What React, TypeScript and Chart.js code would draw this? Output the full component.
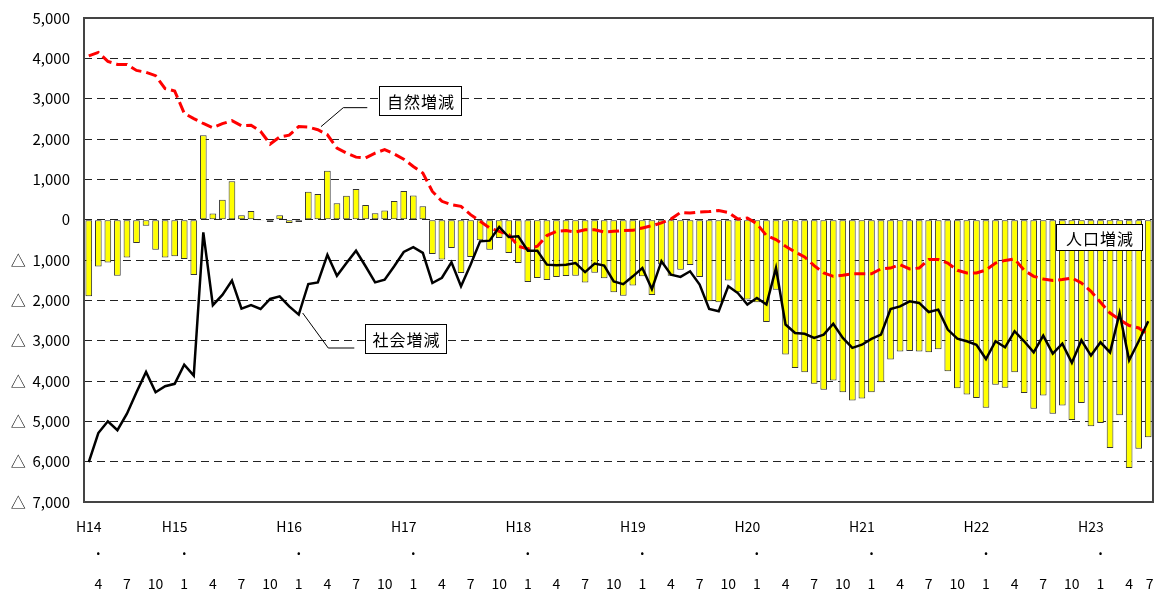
import { useEffect, useRef } from "react";
import { Chart, registerables } from "chart.js";

Chart.register(...registerables);

const FONT = '"Noto Sans CJK JP", "Noto Sans", sans-serif';

// 人口増減 (bars), H14.4 – H23.7, monthly
const populationChange = [
  -1900, -1160, -1060, -1390, -935, -580, -150, -745, -935, -910, -975, -1370,
  2090, 150, 495, 950, 110, 215, -10, -55, 107, -80, -60, 695,
  635, 1215, 405, 595, 760, 365, 157, 230, 463, 710, 600, 330,
  -850, -985, -700, -1320, -925, -510, -745, -455, -825, -1075, -1545, -1445,
  -1495, -1420, -1395, -1390, -1560, -1315, -1455, -1800, -1885, -1635, -1405, -1865,
  -1110, -1390, -1240, -1125, -1420, -2025, -2050, -1510, -1800, -1980, -2050, -2535,
  -1735, -3345, -3675, -3785, -4070, -4215, -3990, -4280, -4485, -4435, -4280, -4030,
  -3470, -3270, -3255, -3270, -3290, -3215, -3760, -4180, -4335, -4420, -4665, -4090,
  -4170, -3785, -4295, -4685, -4360, -4815, -4610, -4970, -4545, -5120, -5040, -5660,
  -4850, -6155, -5680, -5395,
];

// 自然増減 (red dashed line)
const naturalChange = [
  4060, 4146, 3925, 3850, 3850, 3700, 3655, 3570, 3250, 3190, 2640, 2505,
  2385, 2280, 2380, 2455, 2330, 2340, 2190, 1875, 2050, 2095, 2310, 2295,
  2230, 2105, 1775, 1650, 1550, 1530, 1650, 1735, 1630, 1500, 1320, 1155,
  700, 455, 370, 330, 125, -40, -205, -290, -370, -660, -725, -660,
  -395, -290, -270, -305, -250, -250, -305, -290, -270, -265, -205, -150,
  -80, 15, 180, 165, 190, 200, 225, 180, 15, 40, -100, -395,
  -495, -660, -800, -925, -1140, -1320, -1405, -1380, -1340, -1340, -1340, -1220,
  -1200, -1115, -1220, -1200, -990, -990, -1075, -1255, -1320, -1320, -1250, -1075,
  -1010, -975, -1255, -1405, -1470, -1505, -1485, -1445, -1570, -1775, -2050, -2315,
  -2480, -2625, -2685, -2850,
];

// 社会増減 (black line)
const socialChange = [
  -6010, -5290, -5000, -5220, -4810, -4280, -3775, -4280, -4130, -4070, -3595, -3865,
  -315, -2120, -1865, -1510, -2205, -2120, -2215, -1965, -1900, -2150, -2355, -1595,
  -1555, -870, -1390, -1075, -770, -1155, -1555, -1490, -1155, -800, -680, -825,
  -1570, -1440, -1057, -1650, -1115, -537, -520, -180, -430, -413, -770, -770,
  -1115, -1130, -1115, -1075, -1300, -1090, -1140, -1530, -1600, -1405, -1200, -1720,
  -1030, -1365, -1420, -1280, -1610, -2215, -2270, -1650, -1820, -2105, -1940, -2105,
  -1200, -2600, -2810, -2830, -2930, -2850, -2580, -2930, -3180, -3100, -2955, -2850,
  -2215, -2150, -2025, -2065, -2290, -2230, -2725, -2950, -3015, -3100, -3455, -3015,
  -3165, -2765, -3015, -3290, -2875, -3320, -3075, -3550, -2990, -3370, -3040, -3290,
  -2315, -3485, -3015, -2520,
];

const START_YEAR = 14;
const START_MONTH = 4;
const categories = populationChange.map((_, i) => {
  const k = START_MONTH - 1 + i;
  return `H${START_YEAR + Math.floor(k / 12)}.${(k % 12) + 1}`;
});

const Y_MIN = -7000;
const Y_MAX = 5000;
const Y_STEP = 1000;

const seriesNames = { population: "人口増減", natural: "自然増減", social: "社会増減" };

// callouts: anchor in (category index, value) units
const callouts = [
  { text: seriesNames.natural, cx: 34.75, cy: 2963, w: 82, h: 29, leader: [[24.33, 2306], [26.67, 2777], [29.18, 2777]] },
  { text: seriesNames.social, cx: 33.23, cy: -2951, w: 81, h: 29, leader: [[22.41, -2314], [25.09, -3182], [27.82, -3182]] },
  { text: seriesNames.population, cx: 105.82, cy: -422, w: 86, h: 26, leader: [] as number[][] },
];

function fmt(v: number) {
  const s = Math.abs(v).toLocaleString("en-US");
  return v < 0 ? "△  " + s : s;
}

const overlayPlugin = {
  id: "overlay",
  afterDatasetsDraw(chart: any) {
    const ctx = chart.ctx;
    const a = chart.chartArea;
    const ys = chart.scales.y;
    const step = a.width / categories.length;
    const px = (idx: number) => a.left + (idx + 0.5) * step;
    const py = (v: number) => ys.getPixelForValue(v);
    ctx.save();
    // plot frame
    ctx.strokeStyle = "#444";
    ctx.lineWidth = 2;
    ctx.setLineDash([]);
    ctx.strokeRect(a.left, a.top, a.width, a.height);
    // callouts
    ctx.lineWidth = 1;
    ctx.strokeStyle = "#000";
    callouts.forEach((c) => {
      if (c.leader.length) {
        ctx.beginPath();
        c.leader.forEach((p, j) => {
          const x = px(p[0]);
          const y = py(p[1]);
          if (j === 0) ctx.moveTo(x, y);
          else ctx.lineTo(x, y);
        });
        ctx.stroke();
      }
      const x = Math.round(px(c.cx) - c.w / 2) + 0.5;
      const y = Math.round(py(c.cy) - c.h / 2) + 0.5;
      ctx.fillStyle = "#fff";
      ctx.fillRect(x, y, c.w, c.h);
      ctx.strokeRect(x, y, c.w, c.h);
      ctx.fillStyle = "#000";
      ctx.font = `16px ${FONT}`;
      ctx.textAlign = "center";
      ctx.textBaseline = "middle";
      ctx.fillText(c.text.split("").join(String.fromCharCode(8202)), x + c.w / 2, y + c.h / 2 + 1);
    });
    ctx.restore();
  },
  afterDraw(chart: any) {
    const ctx = chart.ctx;
    const a = chart.chartArea;
    const xs = chart.scales.x;
    const step = a.width / categories.length;
    ctx.save();
    ctx.fillStyle = "#000";
    ctx.font = `14px ${FONT}`;
    ctx.textAlign = "center";
    categories.forEach((c, i) => {
      if (i % 3 !== 0) return;
      const [yStr, mStr] = c.slice(1).split(".");
      const cx = xs.getPixelForValue(i);
      const w = ctx.measureText(mStr).width;
      const mx = Math.min(cx + step, chart.width - w / 2 - 0.5);
      ctx.textBaseline = "middle";
      ctx.fillText(mStr, mx, a.bottom + 81.5);
      if (i === 0 || mStr === "1") {
        ctx.fillText("H" + yStr, cx, a.bottom + 24.5);
        ctx.font = `bold 14px ${FONT}`;
        ctx.textBaseline = "alphabetic";
        ctx.fillText(".", cx + step, a.bottom + 53);
        ctx.font = `14px ${FONT}`;
      }
    });
    ctx.restore();
  },
};

export default function App() {
  const ref = useRef<HTMLCanvasElement | null>(null);
  useEffect(() => {
    document.body.style.margin = "0";
    if (!ref.current) return;
    const chart = new Chart(ref.current, {
      type: "bar",
      data: {
        labels: categories,
        datasets: [
          {
            type: "line",
            label: seriesNames.social,
            data: socialChange,
            borderColor: "#000",
            borderWidth: 2.5,
            pointRadius: 0,
            tension: 0,
            order: 0,
          } as any,
          {
            type: "line",
            label: seriesNames.natural,
            data: naturalChange,
            borderColor: "#ff0000",
            borderWidth: 3,
            borderDash: [11, 5],
            pointRadius: 0,
            tension: 0,
            order: 1,
          } as any,
          {
            type: "bar",
            label: seriesNames.population,
            data: populationChange,
            backgroundColor: "#ffff00",
            borderColor: "#333",
            borderWidth: 1,
            borderSkipped: false,
            categoryPercentage: 1,
            barPercentage: 0.7,
            order: 2,
          } as any,
        ],
      },
      options: {
        responsive: false,
        devicePixelRatio: 1,
        animation: false,
        layout: { padding: { top: 18, right: 1, bottom: 88, left: 0 } },
        plugins: { legend: { display: false }, tooltip: { enabled: false } },
        scales: {
          x: {
            ticks: { display: false },
            grid: { display: false, drawTicks: false },
            border: { display: false },
            afterFit: (s: any) => {
              s.height = 0;
              s.paddingLeft = 0;
              s.paddingRight = 0;
            },
          },
          y: {
            min: Y_MIN,
            max: Y_MAX,
            ticks: {
              stepSize: Y_STEP,
              padding: 14,
              color: "#000",
              font: { family: FONT, size: 15 },
              callback: (v: any) => fmt(Number(v)),
            },
            grid: { color: "#222", lineWidth: 1, drawTicks: false },
            border: { display: false, dash: [8, 5] },
            afterFit: (s: any) => {
              s.width = 84;
              s.paddingTop = 0;
              s.paddingBottom = 0;
            },
          },
        },
      },
      plugins: [overlayPlugin],
    });
    return () => chart.destroy();
  }, []);
  return (
    <div style={{ width: 1154, height: 590 }}>
      <canvas ref={ref} width={1154} height={590} style={{ display: "block" }} />
    </div>
  );
}
